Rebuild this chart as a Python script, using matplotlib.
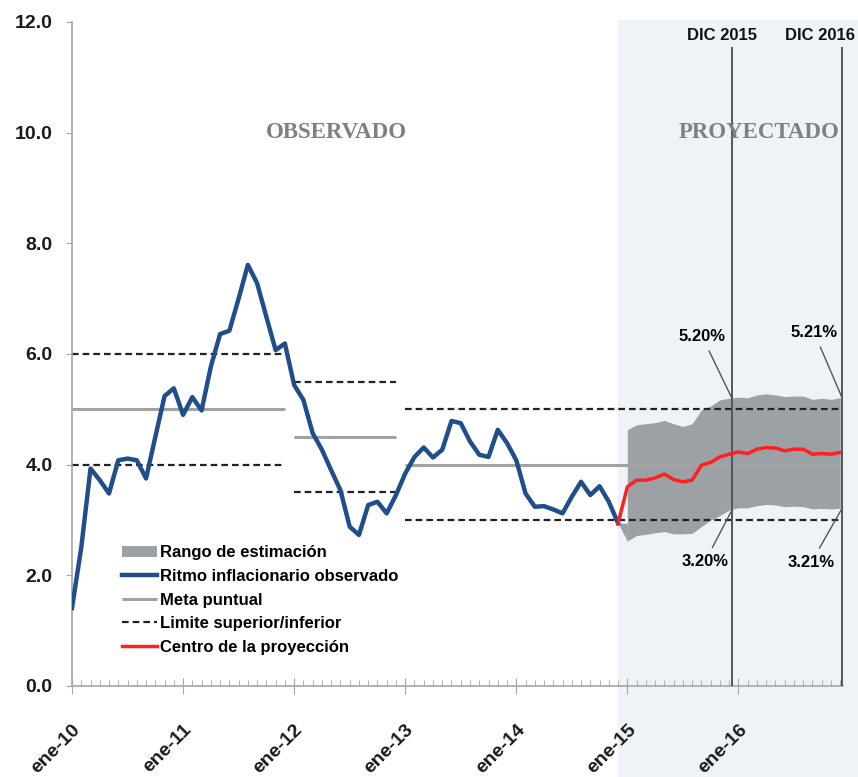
import matplotlib
matplotlib.use("Agg")
import matplotlib.pyplot as plt
import matplotlib.transforms as mtransforms
from matplotlib.patches import Rectangle
import numpy as np

# ritmo inflacionario observado, ene-10 .. dic-14 (one value per month)
observado = [1.41, 2.50, 3.93, 3.72, 3.48, 4.08, 4.11, 4.08, 3.75, 4.50, 5.24, 5.38,
             4.90, 5.22, 4.98, 5.77, 6.36, 6.42, 7.00, 7.61, 7.28, 6.67, 6.07, 6.19,
             5.44, 5.17, 4.57, 4.27, 3.90, 3.54, 2.88, 2.73, 3.27, 3.33, 3.12, 3.45,
             3.84, 4.14, 4.31, 4.13, 4.27, 4.79, 4.75, 4.42, 4.18, 4.14, 4.63, 4.39,
             4.08, 3.48, 3.24, 3.25, 3.19, 3.12, 3.42, 3.69, 3.45, 3.61, 3.33, 2.94]

# centro de la proyeccion, dic-14 .. dic-16
centro = [2.94, 3.60, 3.72, 3.72, 3.76, 3.83, 3.73, 3.69, 3.72, 3.99, 4.04, 4.14, 4.19,
          4.23, 4.20, 4.28, 4.31, 4.30, 4.25, 4.28, 4.28, 4.19, 4.20, 4.19, 4.22]
# rango de estimacion
rango_inf = [2.94, 2.62, 2.72, 2.74, 2.77, 2.79, 2.75, 2.75, 2.76, 2.88, 3.00, 3.08, 3.18,
             3.22, 3.22, 3.26, 3.28, 3.27, 3.24, 3.25, 3.24, 3.20, 3.21, 3.20, 3.21]
rango_sup = [4.63, 4.72, 4.74, 4.76, 4.80, 4.74, 4.69, 4.74, 4.99, 5.06, 5.17, 5.20,
             5.22, 5.21, 5.26, 5.28, 5.26, 5.23, 5.24, 5.24, 5.18, 5.20, 5.18, 5.21]

# metas de inflacion por periodo (month index start/end)
meta_inicio = [0, 24, 36]
meta_fin = [23, 35, 83]
meta_puntual = [5.0, 4.5, 4.0]
limite_sup = [6.0, 5.5, 5.0]
limite_inf = [4.0, 3.5, 3.0]

x_labels = ["ene-10", "ene-11", "ene-12", "ene-13", "ene-14", "ene-15", "ene-16"]
y_ticks = [0, 2, 4, 6, 8, 10, 12]

fechas_dic = [71.3, 83.2]
etiquetas_dic = ["DIC 2015", "DIC 2016"]
valores_sup = ["5.20%", "5.21%"]
valores_inf = ["3.20%", "3.21%"]

plt.rcParams['font.family'] = ['Liberation Sans', 'DejaVu Sans']

fig = plt.figure(figsize=(8.58, 7.77), dpi=100)
ax = fig.add_axes([72 / 858, 1 - 686 / 777, 771 / 858, 664 / 777])
ax.patch.set_visible(False)

n_obs = len(observado)
x_obs = np.arange(n_obs)
x_proj = np.arange(n_obs - 1, n_obs - 1 + len(centro))

# projected zone background (runs past the axes down to the bottom of the figure)
trans = mtransforms.blended_transform_factory(ax.transData, fig.transFigure)
shade = Rectangle((n_obs - 1, 0), 40, 1 - 20 / 777, transform=trans,
                  facecolor='#eef3f8', edgecolor='none', clip_on=False, zorder=0)
ax.add_patch(shade)

# band
band = ax.fill_between(x_proj[1:], rango_inf[1:], rango_sup, color='#9ca1a6',
                       linewidth=0, zorder=1, label='Rango de estimación')
ax.fill_between(x_proj[:2], rango_inf[:2], centro[0], color='#9ca1a6', linewidth=0, zorder=1)

meta = ax.hlines(meta_puntual, meta_inicio, meta_fin, colors='#a3a3a3', linewidth=2.2,
                 zorder=2, label='Meta puntual')
lim = ax.hlines(limite_sup + limite_inf, meta_inicio + meta_inicio, meta_fin + meta_fin,
                colors='#222222', linewidth=1.6, linestyles=(0, (3, 1.8)), zorder=2,
                label='Limite superior/inferior')

obs_line, = ax.plot(x_obs, observado, color='#1f4e8a', linewidth=3.2, zorder=4,
                    label='Ritmo inflacionario observado')
proj_line, = ax.plot(x_proj, centro, color='#ff2020', linewidth=2.5, zorder=4,
                     label='Centro de la proyección')

# december markers
ax.vlines(fechas_dic, 0, 11.55, colors='#555555', linewidth=1.4, zorder=3)
ax.text(70.2, 11.75, etiquetas_dic[0], ha='center', va='center', fontsize=12,
        fontweight='bold', color='#111111')
ax.text(84.6, 11.75, etiquetas_dic[1], ha='right', va='center', fontsize=12,
        fontweight='bold', color='#111111', clip_on=False)

ax.text(28.6, 10.0, "OBSERVADO", ha='center', va='center', fontsize=16.5,
        fontweight='bold', family='Liberation Serif', color='#808080')
ax.text(74.2, 10.0, "PROYECTADO", ha='center', va='center', fontsize=16.5,
        fontweight='bold', family='Liberation Serif', color='#808080')

arrow = dict(arrowstyle='-', color='#555555', lw=1, shrinkA=3, shrinkB=0)
ax.annotate(valores_sup[0], xy=(fechas_dic[0], rango_sup[11]), xytext=(68.1, 6.31),
            ha='center', va='center', fontsize=12, fontweight='bold', arrowprops=arrow)
ax.annotate(valores_sup[1], xy=(fechas_dic[1], rango_sup[-1]), xytext=(80.2, 6.38),
            ha='center', va='center', fontsize=12, fontweight='bold', arrowprops=arrow)
ax.annotate(valores_inf[0], xy=(fechas_dic[0], rango_inf[12]), xytext=(68.4, 2.25),
            ha='center', va='center', fontsize=12, fontweight='bold', arrowprops=arrow)
ax.annotate(valores_inf[1], xy=(fechas_dic[1], rango_inf[-1]), xytext=(79.9, 2.24),
            ha='center', va='center', fontsize=12, fontweight='bold', arrowprops=arrow)

# axes
ax.set_xlim(0, 83.3)
ax.set_ylim(0, 12)
ax.set_yticks(y_ticks)
ax.set_yticklabels([f"{v:.1f}" for v in y_ticks])
ax.set_xticks(np.arange(0, 12 * len(x_labels), 12))
ax.set_xticklabels(x_labels, rotation=45, ha='right', va='center', rotation_mode='anchor')
ax.set_xticks(np.arange(0, 84), minor=True)

for s in ['top', 'right']:
    ax.spines[s].set_visible(False)
for s in ['left', 'bottom']:
    ax.spines[s].set_color('#a6a6a6')
    ax.spines[s].set_linewidth(1.2)

ax.tick_params(axis='y', direction='out', length=4, color='#a6a6a6', pad=10,
               labelsize=14, labelcolor='#1a1a1a')
ax.tick_params(axis='x', which='major', direction='inout', length=11, color='#a6a6a6',
               pad=24, labelsize=14, labelcolor='#1a1a1a')
ax.tick_params(axis='x', which='minor', direction='in', length=4, color='#a6a6a6')
for lab in ax.get_yticklabels() + ax.get_xticklabels():
    lab.set_fontweight('bold')
offset = mtransforms.ScaledTranslation(6 / 100, 0, fig.dpi_scale_trans)
for lab in ax.get_xticklabels():
    lab.set_transform(lab.get_transform() + offset)

leg = ax.legend(handles=[band, obs_line, meta, lim, proj_line],
                loc='upper left', bbox_to_anchor=(0.065, 0.212), frameon=False,
                borderpad=0, borderaxespad=0, handlelength=2.1, handletextpad=0.2,
                labelspacing=0.52, prop={'size': 12, 'weight': 'bold'})

fig.savefig("out.png", dpi=100)
